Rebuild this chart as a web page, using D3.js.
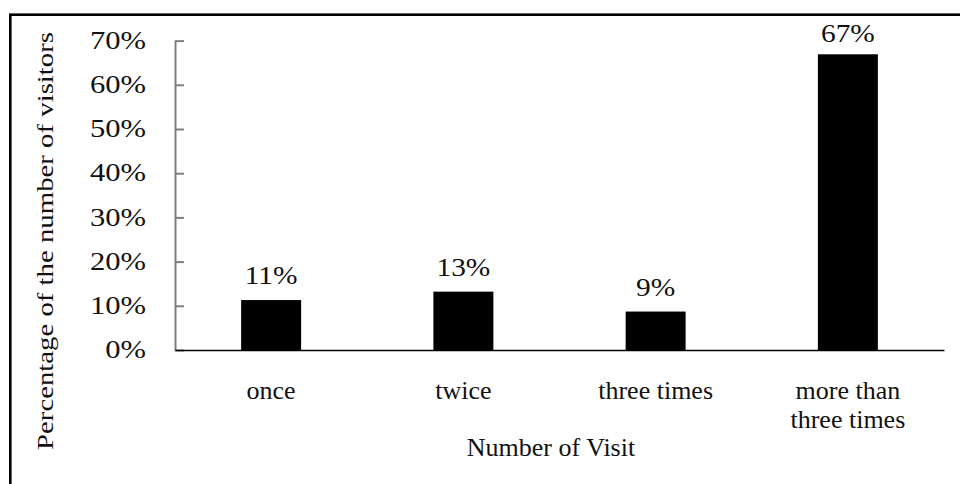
<!DOCTYPE html>
<html><head><meta charset="utf-8">
<script src="https://cdn.jsdelivr.net/npm/d3@7"></script>
<style>body{margin:0;background:#fff}svg{display:block}</style>
</head><body><svg id="c" width="960" height="484" font-family="'Liberation Serif', 'Times New Roman', Times, serif"></svg>
<script>
const categories = ["once", "twice", "three times", "more than\nthree times"];
const values = [0.113, 0.132, 0.087, 0.669];
const yTicks = [0, 0.1, 0.2, 0.3, 0.4, 0.5, 0.6, 0.7];
const xTitle = "Number of Visit";
const yTitle = "Percentage of the number of visitors";

const svg = d3.select("#c");
svg.append("rect").attr("x",10.3).attr("y",14.7).attr("width",1000).attr("height",1000)
  .attr("fill","none").attr("stroke","#000").attr("stroke-width",2.6);

const x = d3.scaleBand().domain(categories).range([175, 944]).paddingInner(0.688).paddingOuter(0.344);
const y = d3.scaleLinear().domain([0, 0.7]).range([350, 40.6]);

svg.selectAll("rect.bar").data(values).join("rect").attr("class","bar")
  .attr("x",(d,i)=>x(categories[i])).attr("width",x.bandwidth())
  .attr("y",d=>y(d)).attr("height",d=>y(0)-y(d)).attr("fill","#000");

const fmt = d3.format(".0%");
const STRETCH = 1.2;
svg.selectAll("text.val").data(values).join("text").attr("class","val")
  .attr("transform",(d,i)=>`translate(${x(categories[i])+x.bandwidth()/2},${Math.max(y(d)-16, 42)}) scale(${STRETCH},1)`)
  .attr("text-anchor","middle").attr("font-size",24.5).attr("fill","#111").text(d=>fmt(d));

const yAxis = d3.axisRight(y).tickValues(yTicks).tickSize(9).tickFormat("").tickSizeOuter(0);
const gy = svg.append("g").attr("transform","translate(175,0)").call(yAxis);
gy.select(".domain").attr("stroke","#7f7f7f").attr("stroke-width",2);
gy.selectAll(".tick line").attr("stroke","#7f7f7f").attr("stroke-width",2);
svg.selectAll("text.yt").data(yTicks).join("text").attr("class","yt")
  .attr("transform",d=>`translate(146,${y(d)}) scale(${STRETCH},1)`).attr("dy","0.32em").attr("text-anchor","end")
  .attr("font-size",25.5).attr("fill","#111").text(d=>fmt(d));

const xAxis = d3.axisBottom(x).tickSize(0).tickSizeOuter(0).tickFormat("");
const gx = svg.append("g").attr("transform","translate(0,350)").call(xAxis);
gx.select(".domain").attr("stroke","#000").attr("stroke-width",1.6);

svg.selectAll("text.cat").data(categories).join("text").attr("class","cat")
  .attr("x",d=>x(d)+x.bandwidth()/2).attr("y",399).attr("text-anchor","middle").attr("font-size",26).attr("fill","#111")
  .each(function(d){
    const lines = d.split("\n");
    d3.select(this).selectAll("tspan").data(lines).join("tspan")
      .attr("x",x(d)+x.bandwidth()/2).attr("dy",(l,i)=>i===0?0:29).text(l=>l);
  });

svg.append("text").attr("x",551).attr("y",456).attr("text-anchor","middle").attr("font-size",26).attr("fill","#111").text(xTitle);
svg.append("text").attr("transform","translate(53,241) rotate(-90)").attr("text-anchor","middle").attr("fill","#111")
  .attr("font-size",24).attr("textLength",418).attr("lengthAdjust","spacingAndGlyphs").text(yTitle);
</script></body></html>
